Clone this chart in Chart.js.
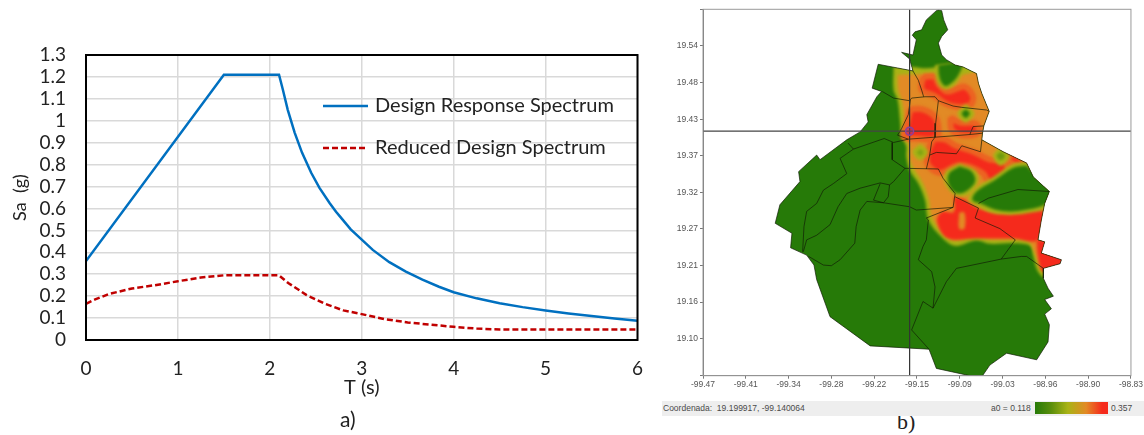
<!DOCTYPE html>
<html>
<head>
<meta charset="utf-8">
<title>Design spectrum and a0 map</title>
<script src="https://cdn.jsdelivr.net/npm/chart.js@4"></script>
<style>
	body { margin: 0; background: #fff; width: 1144px; height: 435px; overflow: hidden; position: relative; }
	canvas { position: absolute; }
	.txt { position: absolute; white-space: nowrap; color: #4a4a4a; font-family: "Liberation Sans", sans-serif; font-size: 8.5px; }
	.caption { color: #222; }
</style>
</head>
<body>
<canvas id="spectrum" width="660" height="435" style="left:0;top:0"></canvas>
<canvas id="map" width="484" height="400" style="left:660px;top:0"></canvas>

<div class="txt caption" style="left:340px;top:406px;font-family:Lato;font-size:21px">a)</div>
<div class="txt caption" style="left:897px;top:409px;font-family:'Liberation Serif';font-size:22px">b)</div>
<div style="position:absolute;left:662px;top:401px;width:482px;height:15px;background:#eeeeee"></div>
<div class="txt" style="left:663px;top:403px">Coordenada:&nbsp; 19.199917, -99.140064</div>
<div class="txt" style="left:991px;top:403px">a0 = 0.118</div>
<div style="position:absolute;left:1035px;top:402px;width:73px;height:12px;background:linear-gradient(to right,#267a08 0%,#5a8e0c 22%,#a9b316 45%,#e28a25 70%,#f52a1c 92%)"></div>
<div class="txt" style="left:1111px;top:403px">0.357</div>

<script>
// a) spectra
const seriesNames = ['Design Response Spectrum', 'Reduced Design Spectrum'];
const designT = [0, 1.5, 2.1, 2.14, 2.195, 2.27, 2.35, 2.45, 2.54, 2.65, 2.72, 2.76, 2.88, 3, 3.12, 3.3, 3.48, 3.66, 3.84, 4, 4.25, 4.5, 4.75, 5, 5.25, 5.5, 5.75, 6];
const designSa = [0.36, 1.21, 1.21, 1.145, 1.05, 0.946, 0.855, 0.763, 0.694, 0.625, 0.585, 0.565, 0.505, 0.458, 0.411, 0.355, 0.312, 0.275, 0.243, 0.218, 0.19, 0.168, 0.15, 0.135, 0.121, 0.109, 0.098, 0.088];
const reducedT = [0, 0.1, 0.25, 0.5, 0.75, 1, 1.25, 1.5, 2.1, 2.2, 2.4, 2.6, 2.8, 3, 3.25, 3.5, 3.75, 4, 4.25, 4.5, 6];
const reducedSa = [0.165, 0.185, 0.21, 0.235, 0.25, 0.268, 0.285, 0.295, 0.295, 0.26, 0.205, 0.165, 0.135, 0.118, 0.095, 0.08, 0.07, 0.06, 0.052, 0.048, 0.048];

// b) map axes
const lonTicks = [-99.47, -99.406, -99.342, -99.278, -99.214, -99.15, -99.086, -99.022, -98.958, -98.894, -98.83];
const lonLabels = ['-99.47', '-99.41', '-99.34', '-99.28', '-99.22', '-99.15', '-99.09', '-99.03', '-98.96', '-98.90', '-98.83'];
const latTicks = [19.044, 19.1, 19.155, 19.21, 19.266, 19.321, 19.376, 19.431, 19.487, 19.542, 19.597];
const latLabels = ['', '19.10', '19.16', '19.21', '19.27', '19.32', '19.37', '19.43', '19.48', '19.54', ''];
const crossLon = -99.161;
const crossLat = 19.413;

// city outline as [lon, lat]
const cityOutline = [[-99.118,19.596],[-99.113,19.595],[-99.110,19.581],[-99.104,19.566],[-99.113,19.556],[-99.118,19.546],[-99.113,19.528],[-99.106,19.521],[-99.093,19.513],[-99.081,19.510],[-99.061,19.500],[-99.058,19.485],[-99.053,19.470],[-99.042,19.443],[-99.050,19.421],[-99.052,19.410],[-99.053,19.400],[-99.021,19.382],[-98.986,19.365],[-98.976,19.344],[-98.952,19.322],[-98.959,19.304],[-98.963,19.284],[-98.964,19.279],[-98.969,19.249],[-98.959,19.246],[-98.964,19.229],[-98.934,19.219],[-98.936,19.213],[-98.961,19.206],[-98.961,19.191],[-98.954,19.176],[-98.946,19.164],[-98.959,19.159],[-98.949,19.145],[-98.959,19.137],[-98.952,19.121],[-98.954,19.095],[-98.971,19.068],[-99.016,19.078],[-99.041,19.060],[-99.052,19.044],[-99.071,19.044],[-99.121,19.055],[-99.132,19.084],[-99.220,19.089],[-99.280,19.133],[-99.300,19.189],[-99.304,19.211],[-99.315,19.226],[-99.339,19.237],[-99.337,19.259],[-99.362,19.274],[-99.355,19.302],[-99.325,19.337],[-99.327,19.352],[-99.300,19.377],[-99.295,19.370],[-99.255,19.400],[-99.235,19.412],[-99.223,19.427],[-99.225,19.438],[-99.210,19.465],[-99.203,19.473],[-99.217,19.478],[-99.208,19.514],[-99.156,19.504],[-99.161,19.522],[-99.173,19.532],[-99.156,19.528],[-99.151,19.551],[-99.157,19.558],[-99.153,19.563],[-99.143,19.566],[-99.136,19.581],[-99.121,19.595]];

// a0 zones, painted bottom to top
const rimMain = [[-99.185,19.510],[-99.156,19.510],[-99.136,19.508],[-99.081,19.513],[-99.036,19.500],[-99.026,19.440],[-99.036,19.405],[-98.976,19.370],[-98.946,19.329],[-98.944,19.209],[-98.956,19.191],[-98.969,19.201],[-98.976,19.224],[-98.981,19.240],[-99.006,19.244],[-99.041,19.243],[-99.061,19.248],[-99.093,19.240],[-99.113,19.253],[-99.133,19.279],[-99.138,19.309],[-99.148,19.334],[-99.161,19.354],[-99.166,19.375],[-99.166,19.390],[-99.173,19.405],[-99.175,19.425],[-99.179,19.460],[-99.185,19.475]];
const orangeMain = [[-99.179,19.498],[-99.151,19.499],[-99.121,19.500],[-99.086,19.498],[-99.036,19.503],[-99.026,19.440],[-99.036,19.400],[-98.976,19.362],[-98.956,19.329],[-98.949,19.299],[-98.946,19.214],[-98.961,19.201],[-98.974,19.229],[-98.984,19.248],[-99.006,19.250],[-99.041,19.250],[-99.061,19.256],[-99.093,19.248],[-99.111,19.259],[-99.128,19.284],[-99.132,19.309],[-99.141,19.334],[-99.153,19.354],[-99.161,19.372],[-99.161,19.390],[-99.167,19.405],[-99.168,19.425],[-99.173,19.460],[-99.178,19.475]];
const redNorth = [[-99.141,19.495],[-99.123,19.495],[-99.118,19.485],[-99.106,19.473],[-99.091,19.477],[-99.078,19.480],[-99.066,19.465],[-99.071,19.452],[-99.091,19.450],[-99.108,19.455],[-99.123,19.466],[-99.143,19.476]];
const redCentre = [[-99.160,19.446],[-99.141,19.446],[-99.121,19.432],[-99.121,19.403],[-99.151,19.402],[-99.170,19.405],[-99.165,19.425]];
const redEast = [[-99.100,19.434],[-99.086,19.426],[-99.061,19.424],[-99.059,19.410],[-99.083,19.407],[-99.098,19.415]];
const redMiddle = [[-99.125,19.402],[-99.106,19.400],[-99.094,19.392],[-99.063,19.381],[-99.041,19.370],[-99.019,19.368],[-99.015,19.344],[-99.041,19.335],[-99.052,19.350],[-99.086,19.362],[-99.116,19.350],[-99.134,19.363],[-99.134,19.382]];
const redSpot = [[-99.008,19.381],[-98.987,19.367],[-98.999,19.360],[-99.013,19.370]];
const redSouth = [[-99.095,19.314],[-99.081,19.311],[-99.056,19.296],[-99.021,19.289],[-98.996,19.291],[-98.964,19.301],[-98.969,19.249],[-99.006,19.251],[-99.041,19.251],[-99.061,19.251],[-99.105,19.252],[-99.120,19.277],[-99.113,19.291],[-99.095,19.291]];
const redTail = [[-98.971,19.249],[-98.956,19.246],[-98.929,19.221],[-98.931,19.209],[-98.961,19.201],[-98.969,19.224]];
const orangeStripe = [[-99.087,19.290],[-99.079,19.290],[-99.079,19.266],[-99.087,19.266]];
const rimLobe = [[-99.123,19.513],[-99.078,19.515],[-99.083,19.498],[-99.093,19.483],[-99.106,19.476],[-99.116,19.481],[-99.122,19.495]];
const coreLobe = [[-99.118,19.513],[-99.083,19.515],[-99.088,19.498],[-99.098,19.486],[-99.107,19.481],[-99.113,19.486],[-99.117,19.498]];
const rimDotA = [[-99.077,19.454],[-99.064,19.440],[-99.077,19.426],[-99.089,19.440]];
const coreDotA = [[-99.077,19.446],[-99.071,19.440],[-99.077,19.433],[-99.083,19.440]];
const rimDotB = [[-99.145,19.394],[-99.133,19.382],[-99.145,19.369],[-99.157,19.382]];
const coreDotB = [[-99.145,19.386],[-99.140,19.381],[-99.145,19.376],[-99.150,19.381]];
const rimDotC = [[-99.025,19.390],[-99.011,19.376],[-99.025,19.361],[-99.036,19.376]];
const coreDotC = [[-99.025,19.382],[-99.018,19.376],[-99.025,19.369],[-99.031,19.376]];
const rimBlob = [[-99.086,19.364],[-99.063,19.354],[-99.058,19.337],[-99.073,19.317],[-99.093,19.317],[-99.108,19.334],[-99.107,19.352]];
const coreBlob = [[-99.086,19.360],[-99.068,19.352],[-99.063,19.337],[-99.077,19.322],[-99.092,19.320],[-99.103,19.334],[-99.102,19.349]];
const rimBand = [[-98.986,19.367],[-99.006,19.364],[-99.036,19.344],[-99.063,19.327],[-99.073,19.309],[-99.056,19.298],[-99.036,19.289],[-99.011,19.287],[-98.986,19.289],[-98.951,19.299],[-98.944,19.324],[-98.971,19.354]];
const coreBand = [[-98.986,19.361],[-99.006,19.358],[-99.034,19.339],[-99.061,19.322],[-99.067,19.309],[-99.053,19.303],[-99.034,19.295],[-99.011,19.292],[-98.989,19.294],[-98.956,19.304],[-98.949,19.324],[-98.974,19.349]];

// borough limits
const borders = [
	[[-99.156,19.504],[-99.148,19.490],[-99.143,19.475],[-99.140,19.465]],
	[[-99.202,19.473],[-99.185,19.463],[-99.161,19.459],[-99.158,19.463],[-99.138,19.465],[-99.123,19.465],[-99.118,19.459],[-99.096,19.451],[-99.083,19.449],[-99.046,19.445],[-99.042,19.443]],
	[[-99.160,19.460],[-99.163,19.438],[-99.173,19.417],[-99.179,19.407],[-99.163,19.401],[-99.123,19.404]],
	[[-99.118,19.459],[-99.122,19.425],[-99.123,19.404]],
	[[-99.123,19.404],[-99.096,19.406],[-99.071,19.408],[-99.066,19.420],[-99.050,19.421]],
	[[-99.071,19.408],[-99.052,19.410]],
	[[-99.053,19.400],[-99.055,19.382],[-99.083,19.391],[-99.091,19.379],[-99.121,19.381],[-99.131,19.377]],
	[[-99.123,19.404],[-99.128,19.397],[-99.131,19.377],[-99.136,19.356]],
	[[-99.163,19.401],[-99.185,19.396],[-99.199,19.402],[-99.245,19.386],[-99.253,19.395]],
	[[-99.187,19.396],[-99.187,19.370],[-99.168,19.357],[-99.118,19.356],[-99.111,19.342],[-99.093,19.319],[-99.096,19.298]],
	[[-99.168,19.357],[-99.185,19.337],[-99.191,19.332],[-99.193,19.314],[-99.200,19.305]],
	[[-99.245,19.386],[-99.265,19.372],[-99.255,19.349],[-99.275,19.334],[-99.290,19.324],[-99.300,19.304],[-99.315,19.292],[-99.319,19.269],[-99.321,19.231]],
	[[-99.191,19.332],[-99.205,19.335],[-99.235,19.327],[-99.255,19.319],[-99.268,19.299],[-99.280,19.272],[-99.300,19.256],[-99.315,19.249],[-99.320,19.231]],
	[[-99.200,19.305],[-99.225,19.307],[-99.235,19.294],[-99.241,19.269],[-99.243,19.244],[-99.265,19.219],[-99.278,19.210],[-99.290,19.211],[-99.312,19.224]],
	[[-99.205,19.334],[-99.215,19.309],[-99.200,19.305]],
	[[-99.200,19.305],[-99.161,19.299],[-99.151,19.294],[-99.096,19.298]],
	[[-99.093,19.314],[-99.058,19.297],[-99.063,19.282],[-99.026,19.266],[-99.003,19.249],[-99.024,19.220],[-99.091,19.206],[-99.106,19.186],[-99.126,19.146],[-99.141,19.156],[-99.158,19.113],[-99.132,19.084]],
	[[-99.024,19.220],[-98.994,19.224],[-98.986,19.224],[-98.961,19.206]],
	[[-99.096,19.298],[-99.136,19.282],[-99.133,19.279],[-99.136,19.249],[-99.141,19.239],[-99.148,19.219],[-99.128,19.201],[-99.123,19.178],[-99.126,19.146]],
	[[-99.058,19.304],[-99.043,19.312],[-98.999,19.325],[-98.952,19.322]]
];

const GREEN = '#267a08';
const RIM = '#a9b316';
const ORANGE = '#e28a25';
const RED = '#f52a1c';
const RED_EDGE = '#ec6322';
const LIMIT = 'rgba(16,26,6,0.85)';

const heatLayers = [
	[rimMain, RIM], [orangeMain, ORANGE],
	[redNorth, RED, RED_EDGE], [redCentre, RED, RED_EDGE], [redEast, RED, RED_EDGE], [redMiddle, RED, RED_EDGE], [redSpot, RED, RED_EDGE], [redSouth, RED], [redTail, RED], [orangeStripe, ORANGE],
	[rimLobe, RIM], [coreLobe, GREEN], [rimDotA, RIM], [coreDotA, GREEN], [rimDotB, RIM], [coreDotB, '#7fa312'],
	[rimDotC, RIM], [coreDotC, '#6d9a0f'], [rimBlob, RIM], [coreBlob, GREEN], [rimBand, RIM], [coreBand, GREEN]
];

function toXY(pairs) {
	return pairs.map(p => ({ x: p[0], y: p[1] }));
}

function closed(pairs) {
	return toXY(pairs.concat([pairs[0]]));
}

function zip(xs, ys) {
	return xs.map((x, i) => ({ x: x, y: ys[i] }));
}

//frame round the plot area
const framePlugin = {
	id: 'frame',
	afterDraw(chart, args, opts) {
		const a = chart.chartArea;
		const ctx = chart.ctx;
		ctx.save();
		ctx.strokeStyle = opts.color;
		ctx.lineWidth = opts.width;
		ctx.strokeRect(a.left, a.top, a.right - a.left, a.bottom - a.top);
		ctx.restore();
	}
};

//legend sits inside the plot, with a wide gap, so it is drawn here
const legendPlugin = {
	id: 'insideLegend',
	afterDraw(chart) {
		const ctx = chart.ctx;
		const rows = [106, 148];
		ctx.save();
		ctx.font = '20px Lato';
		ctx.textBaseline = 'middle';
		chart.data.datasets.forEach((ds, i) => {
			ctx.strokeStyle = ds.borderColor;
			ctx.lineWidth = ds.borderWidth;
			ctx.setLineDash(ds.borderDash || []);
			ctx.beginPath();
			ctx.moveTo(323, rows[i]);
			ctx.lineTo(368, rows[i]);
			ctx.stroke();
			ctx.fillStyle = '#222';
			ctx.fillText(ds.label, 375, rows[i]);
		});
		ctx.restore();
	}
};

//soft edges on the a0 zones, kept inside the city outline
const heatPlugin = {
	id: 'heatClip',
	afterDatasetDraw(chart, args) {
		const ctx = chart.ctx;
		if(args.index === 0) {
			const sx = chart.scales.x;
			const sy = chart.scales.y;
			ctx.save();
			ctx.beginPath();
			cityOutline.forEach((p, i) => {
				const px = sx.getPixelForValue(p[0]);
				const py = sy.getPixelForValue(p[1]);
				if(i === 0) ctx.moveTo(px, py); else ctx.lineTo(px, py);
			});
			ctx.closePath();
			ctx.clip();
			ctx.filter = 'blur(1.5px)';
		}
		if(args.index === heatLayers.length) {
			ctx.restore();
		}
	}
};

new Chart(document.getElementById('spectrum').getContext('2d'), {
	type: 'scatter',
	data: {
		datasets: [{
			label: seriesNames[0],
			data: zip(designT, designSa),
			showLine: true,
			borderColor: '#0070c0',
			borderWidth: 2.5,
			pointRadius: 0,
			order: 2
		}, {
			label: seriesNames[1],
			data: zip(reducedT, reducedSa),
			showLine: true,
			borderColor: '#c00000',
			borderWidth: 2.5,
			borderDash: [6, 3],
			pointRadius: 0,
			order: 1
		}]
	},
	options: {
		responsive: false,
		animation: false,
		layout: { padding: { top: 55, right: 21 } },
		plugins: {
			legend: { display: false },
			tooltip: { enabled: false },
			frame: { color: '#000', width: 2 }
		},
		scales: {
			x: {
				min: 0,
				max: 6,
				afterFit: s => { s.height = 95; },
				grid: { color: '#d9d9d9', lineWidth: 1.5, drawTicks: false },
				border: { display: false },
				ticks: { stepSize: 1, padding: 17, color: '#222', font: { family: 'Lato', size: 19 }, maxRotation: 0 },
				title: { display: true, text: 'T (s)', color: '#222', font: { family: 'Lato', size: 20 }, padding: { top: 0, bottom: 35 } }
			},
			y: {
				min: 0,
				max: 1.3,
				afterFit: s => { s.width = 86; },
				grid: { color: '#d9d9d9', lineWidth: 1.5, drawTicks: false },
				border: { display: false },
				ticks: { stepSize: 0.1, autoSkip: false, padding: 20, color: '#222', font: { family: 'Lato', size: 19 }, callback: v => String(+v.toFixed(1)) },
				title: { display: true, text: 'Sa  (g)', color: '#222', font: { family: 'Lato', size: 18 }, padding: 9 }
			}
		}
	},
	plugins: [framePlugin, legendPlugin]
});

const mapDatasets = [];

function addPolygon(pairs, color, tension, edge) {
	mapDatasets.push({
		data: closed(pairs),
		showLine: true,
		fill: 'shape',
		backgroundColor: color,
		borderColor: edge || color,
		borderWidth: edge ? 6 : 0,
		tension: tension,
		pointRadius: 0
	});
}

function addLine(points, color, width) {
	mapDatasets.push({
		data: points,
		showLine: true,
		fill: false,
		borderColor: color,
		borderWidth: width,
		pointRadius: 0
	});
}

addPolygon(cityOutline, GREEN, 0);
heatLayers.forEach(l => addPolygon(l[0], l[1], 0.35, l[2]));
borders.forEach(b => addLine(toXY(b), LIMIT, 0.8));
addLine(closed(cityOutline), LIMIT, 0.8);
addLine([{ x: crossLon, y: 19.044 }, { x: crossLon, y: 19.597 }], '#333', 1.2);
addLine([{ x: -99.47, y: crossLat }, { x: -98.83, y: crossLat }], '#444', 1.2);
mapDatasets.push({
	data: [{ x: crossLon, y: crossLat }],
	pointRadius: 4,
	pointBackgroundColor: 'rgba(150,60,170,0.35)',
	pointBorderColor: '#8a3f9e',
	pointBorderWidth: 1.5
});
// first in the list has to be painted first
mapDatasets.forEach((ds, i) => { ds.order = mapDatasets.length - i; });

new Chart(document.getElementById('map').getContext('2d'), {
	type: 'scatter',
	data: { datasets: mapDatasets },
	options: {
		responsive: false,
		animation: false,
		layout: { padding: { top: 9.3, right: 12.5 } },
		plugins: {
			legend: { display: false },
			tooltip: { enabled: false },
			frame: { color: '#9a9a9a', width: 1 }
		},
		scales: {
			x: {
				min: -99.47,
				max: -98.83,
				afterFit: s => { s.height = 24.3; },
				afterBuildTicks: s => { s.ticks = lonTicks.map(v => ({ value: v })); },
				grid: { drawOnChartArea: false, tickLength: 3, color: '#777' },
				border: { color: '#777' },
				ticks: {
					autoSkip: false,
					maxRotation: 0,
					padding: 1,
					color: '#555',
					font: { family: 'Liberation Sans', size: 8.5 },
					callback: (v, i) => lonLabels[i]
				}
			},
			y: {
				min: 19.044,
				max: 19.597,
				afterFit: s => { s.width = 43; },
				afterBuildTicks: s => { s.ticks = latTicks.map(v => ({ value: v })); },
				grid: { drawOnChartArea: false, tickLength: 3, color: '#777' },
				border: { color: '#777' },
				ticks: {
					autoSkip: false,
					padding: 2,
					color: '#555',
					font: { family: 'Liberation Sans', size: 8.5 },
					callback: (v, i) => latLabels[i]
				}
			}
		}
	},
	plugins: [heatPlugin, framePlugin]
});
</script>
</body>
</html>
